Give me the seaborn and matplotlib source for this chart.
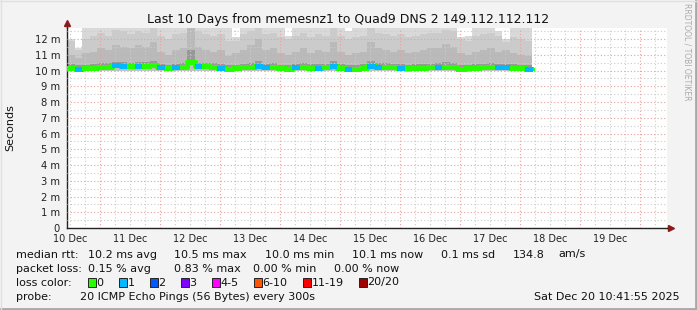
import numpy as np
import pandas as pd
import matplotlib
matplotlib.use("Agg")
import matplotlib.pyplot as plt
import matplotlib.dates as mdates
from matplotlib.ticker import FuncFormatter, MultipleLocator
import seaborn as sns

# ---------------- data ----------------
start_time = "2025-12-10 10:41:55"
end_time = "2025-12-20 10:41:55"
bin_hours = 3

median_ms = [10.17, 10.12, 10.14, 10.17, 10.22, 10.24, 10.33, 10.30, 10.27, 10.30,
             10.30, 10.35, 10.20, 10.15, 10.20, 10.24, 10.55, 10.26, 10.26, 10.24,
             10.18, 10.12, 10.15, 10.22, 10.24, 10.30, 10.20, 10.24, 10.14, 10.12,
             10.20, 10.20, 10.18, 10.18, 10.20, 10.28, 10.18, 10.10, 10.12, 10.16,
             10.28, 10.25, 10.24, 10.22, 10.16, 10.14, 10.16, 10.17, 10.20, 10.20,
             10.25, 10.25, 10.12, 10.13, 10.18, 10.20, 10.23, 10.20, 10.20, 10.17,
             10.15, 10.12]

loss_count = [0, 1, 0, 0, 0, 0, 1, 1, 0, 1,
              0, 0, 1, 0, 1, 0, 0, 1, 0, 0,
              1, 0, 0, 0, 0, 1, 1, 0, 0, 0,
              1, 0, 0, 1, 0, 1, 0, 1, 0, 0,
              1, 1, 0, 0, 1, 0, 0, 0, 0, 1,
              0, 0, 0, 0, 0, 0, 0, 1, 1, 0,
              0, 1]

smoke_lo = [9.95, 9.94, 9.95, 9.96, 9.97, 9.96, 9.98, 9.97, 9.96, 9.97,
            9.97, 9.98, 9.95, 9.94, 9.95, 9.96, 9.97, 9.97, 9.96, 9.96,
            9.95, 9.93, 9.94, 9.96, 9.96, 9.97, 9.95, 9.96, 9.94, 9.93,
            9.95, 9.95, 9.95, 9.95, 9.96, 9.97, 9.95, 9.92, 9.93, 9.94,
            9.97, 9.96, 9.96, 9.95, 9.94, 9.93, 9.94, 9.95, 9.95, 9.95,
            9.96, 9.96, 9.93, 9.93, 9.95, 9.95, 9.96, 9.95, 9.95, 9.94,
            9.94, 9.93]

smoke_q1 = [10.40, 10.35, 10.38, 10.42, 10.48, 10.45, 10.55, 10.52, 10.48, 10.55,
            10.52, 10.58, 10.42, 10.36, 10.44, 10.48, 11.30, 10.50, 10.48, 10.45,
            10.42, 10.34, 10.37, 10.44, 10.48, 10.60, 10.42, 10.48, 10.36, 10.34,
            10.42, 10.45, 10.40, 10.42, 10.42, 10.60, 10.40, 10.32, 10.36, 10.40,
            10.60, 10.48, 10.45, 10.42, 10.40, 10.36, 10.40, 10.42, 10.42, 10.45,
            10.55, 10.48, 10.36, 10.35, 10.40, 10.42, 10.45, 10.42, 10.42, 10.40,
            10.36, 10.33]

smoke_q2 = [11.0, 10.8, 11.1, 11.2, 11.4, 11.3, 11.6, 11.5, 11.4, 11.6,
            11.5, 11.8, 11.2, 11.0, 11.3, 11.4, 12.7, 11.5, 11.3, 11.2,
            11.3, 10.9, 11.1, 11.3, 11.6, 12.0, 11.3, 11.4, 11.1, 11.0,
            11.2, 11.4, 11.1, 11.3, 11.2, 11.8, 11.2, 11.0, 11.1, 11.2,
            11.8, 11.4, 11.3, 11.2, 11.3, 11.1, 11.2, 11.3, 11.4, 11.4,
            11.7, 11.5, 11.1, 11.0, 11.2, 11.3, 11.4, 11.2, 11.3, 11.1,
            11.0, 10.9]

smoke_q3 = [11.9, 11.3, 12.0, 12.2, 12.4, 12.2, 12.6, 12.5, 12.3, 12.5,
            12.4, 12.7, 12.2, 12.0, 12.3, 12.4, 12.7, 12.5, 12.3, 12.2,
            12.3, 11.9, 11.9, 12.3, 12.5, 12.7, 12.3, 12.4, 12.1, 12.0,
            12.2, 12.4, 12.1, 12.3, 12.2, 12.7, 12.2, 12.0, 12.1, 12.2,
            12.7, 12.4, 12.3, 12.2, 12.3, 12.1, 12.2, 12.3, 12.4, 12.4,
            12.6, 12.5, 12.0, 11.9, 12.2, 12.3, 12.4, 12.2, 11.8, 12.1,
            12.0, 11.9]

smoke_hi = [12.0, 11.4, 12.7, 12.7, 12.7, 12.7, 12.7, 12.7, 12.7, 12.7,
            12.7, 12.7, 12.7, 12.7, 12.7, 12.7, 12.7, 12.7, 12.7, 12.7,
            12.7, 12.7, 12.1, 12.7, 12.7, 12.7, 12.7, 12.7, 12.7, 12.2,
            12.7, 12.7, 12.7, 12.7, 12.7, 12.7, 12.7, 12.5, 12.7, 12.7,
            12.7, 12.7, 12.7, 12.7, 12.7, 12.7, 12.7, 12.7, 12.7, 12.7,
            12.7, 12.7, 12.1, 12.2, 12.7, 12.7, 12.7, 12.5, 12.0, 12.7,
            12.7, 12.7]

loss_labels = ["0", "1", "2", "3", "4-5", "6-10", "11-19", "20/20"]
loss_colors = ["#26ff00", "#00b8ff", "#0059ff", "#7e00ff", "#ff00ff", "#ff5500", "#ff0000", "#a10000"]

stats_rtt = ["10.2 ms avg", "10.5 ms max", "10.0 ms min", "10.1 ms now", "0.1 ms sd", "134.8", "am/s"]
stats_loss = ["0.15 % avg", "0.83 % max", "0.00 % min", "0.00 % now"]
title = "Last 10 Days from memesnz1 to Quad9 DNS 2 149.112.112.112"
probe_text = "20 ICMP Echo Pings (56 Bytes) every 300s"
stamp_text = "Sat Dec 20 10:41:55 2025"
y_max = 12.7

# ---------------- figure ----------------
sns.set_style("white")
plt.rcParams["font.family"] = ["DejaVu Sans"]
W, H = 697, 310
fig = plt.figure(figsize=(W / 100, H / 100), dpi=100, facecolor="#f3f3f3")
ax = fig.add_axes([67 / W, (H - 228) / H, 600 / W, 200 / H])
ax.set_facecolor("white")

n = len(median_ms)
edges = pd.date_range(start_time, periods=n + 1, freq=f"{bin_hours}h")
t = mdates.date2num(edges.to_pydatetime())

def stepv(v):
    return list(v) + [v[-1]]

lo = stepv(smoke_lo); md = stepv(median_ms); q1 = stepv(smoke_q1)
q2 = stepv(smoke_q2); q3 = stepv(smoke_q3); hi = stepv(smoke_hi)
for a, b, c in [(lo, md, "#c2c2c2"), (md, q1, "#989898"), (q1, q2, "#bababa"),
                (q2, q3, "#cbcbcb"), (q3, hi, "#d9d9d9")]:
    ax.fill_between(t, a, b, step="post", color=c, lw=0, zorder=1, antialiased=False)

# median: a step line through seaborn, then coloured per loss
step_df = pd.DataFrame({"t": t, "ms": md})
sns.lineplot(data=step_df, x="t", y="ms", drawstyle="steps-post", color="#26ff00",
             lw=2.4, ax=ax, zorder=3, estimator=None, sort=False, antialiased=False)
seg_colors = [loss_colors[c] for c in loss_count]
ax.hlines(median_ms, t[:-1], t[1:], colors=seg_colors, lw=2.4, zorder=4, antialiased=False)

# axes limits and ticks
x0 = mdates.date2num(pd.Timestamp(start_time).to_pydatetime())
x1 = mdates.date2num(pd.Timestamp(end_time).to_pydatetime())
ax.set_xlim(x0, x1)
ax.set_ylim(0, y_max)

ax.xaxis.set_major_locator(mdates.DayLocator())
ax.xaxis.set_major_formatter(FuncFormatter(lambda v, p: ""))
ax.xaxis.set_minor_locator(mdates.HourLocator(byhour=[6, 12, 18]))
def minor_fmt(v, p):
    d = mdates.num2date(v)
    return d.strftime("%d %b") if d.hour == 12 else ""
ax.xaxis.set_minor_formatter(FuncFormatter(minor_fmt))

ax.yaxis.set_major_locator(MultipleLocator(1))
ax.yaxis.set_minor_locator(MultipleLocator(0.5))
ax.yaxis.set_major_formatter(FuncFormatter(lambda v, p: "0" if abs(v) < 1e-9 else f"{int(round(v))} m"))

ax.tick_params(axis="x", which="minor", length=0, labelsize=7, pad=4, colors="#222222")
ax.tick_params(axis="x", which="major", length=3, direction="inout", color="#d06060")
ax.tick_params(axis="y", which="major", length=4, direction="inout", labelsize=7.2, pad=3,
               color="#555555", labelcolor="#222222")
ax.tick_params(axis="y", which="minor", length=0)

ax.set_axisbelow(False)
ax.grid(True, which="major", color="#eaa0a0", lw=0.8, ls=(0, (1, 2)), zorder=2.5)
ax.grid(True, which="minor", color="#cccccc", lw=0.8, ls=(0, (1, 2)), zorder=2.5)

for s in ["top", "right"]:
    ax.spines[s].set_visible(False)
for s in ["left", "bottom"]:
    ax.spines[s].set_color("#222222")
    ax.spines[s].set_linewidth(1.0)

# axis arrows
ax.plot([0, 0], [1, 1.02], transform=ax.transAxes, color="#222222", lw=1, clip_on=False)
ax.plot([1, 1.006], [0, 0], transform=ax.transAxes, color="#222222", lw=1, clip_on=False)
ax.plot([0], [1.025], transform=ax.transAxes, marker="^", ms=5, color="#8b1a1a", clip_on=False)
ax.plot([1.007], [0], transform=ax.transAxes, marker=">", ms=5, color="#8b1a1a", clip_on=False)

ax.set_xlabel("")
ax.set_ylabel("")

# texts
txt = "#111111"
fig.text(348 / W, 1 - 19 / H, title, ha="center", va="center", fontsize=9, color=txt)
fig.text(10 / W, 1 - 128 / H, "Seconds", rotation=90, ha="center", va="center", fontsize=8, color=txt)
fig.text(687 / W, 1 - 52 / H, "RRDTOOL / TOBI OETIKER", rotation=270, ha="center", va="center",
         fontsize=5.5, color="#aaaaaa")

fs = 8
def ftext(x, y, s, **kw):
    fig.text(x / W, 1 - y / H, s, va="center", fontsize=kw.pop("fontsize", fs), color=txt, **kw)

ftext(16, 254.5, "median rtt:")
for x, s in zip([88, 174, 265, 352, 441, 513, 558], stats_rtt):
    ftext(x, 254.5, s)
ftext(16, 268.5, "packet loss:")
for x, s in zip([88, 174, 253, 334], stats_loss):
    ftext(x, 268.5, s)
ftext(16, 282.5, "loss color:")
box_x = [88, 119, 150, 181, 212, 254, 303, 359]
for bx, lab, col in zip(box_x, loss_labels, loss_colors):
    fig.patches.append(plt.Rectangle((bx / W, 1 - 287 / H), 8 / W, 9 / H, transform=fig.transFigure,
                                     facecolor=col, edgecolor="#222222", lw=0.7))
    ftext(bx + 8.5, 282.5, lab)
ftext(16, 296.5, "probe:")
ftext(80.5, 296.5, probe_text)
ftext(680, 296.5, stamp_text, ha="right")

# frame
fig.add_artist(plt.Line2D([1 - 1.5 / W, 1 - 1.5 / W], [0, 1], transform=fig.transFigure, color="#a8a8a8", lw=2))
fig.add_artist(plt.Line2D([0, 1], [1.5 / H, 1.5 / H], transform=fig.transFigure, color="#a8a8a8", lw=2))
fig.add_artist(plt.Line2D([0.5 / W, 0.5 / W], [0, 1], transform=fig.transFigure, color="#e0e0e0", lw=1))
fig.add_artist(plt.Line2D([0, 1], [1 - 0.5 / H, 1 - 0.5 / H], transform=fig.transFigure, color="#e0e0e0", lw=1))

fig.savefig("out.png", dpi=100, facecolor=fig.get_facecolor())
